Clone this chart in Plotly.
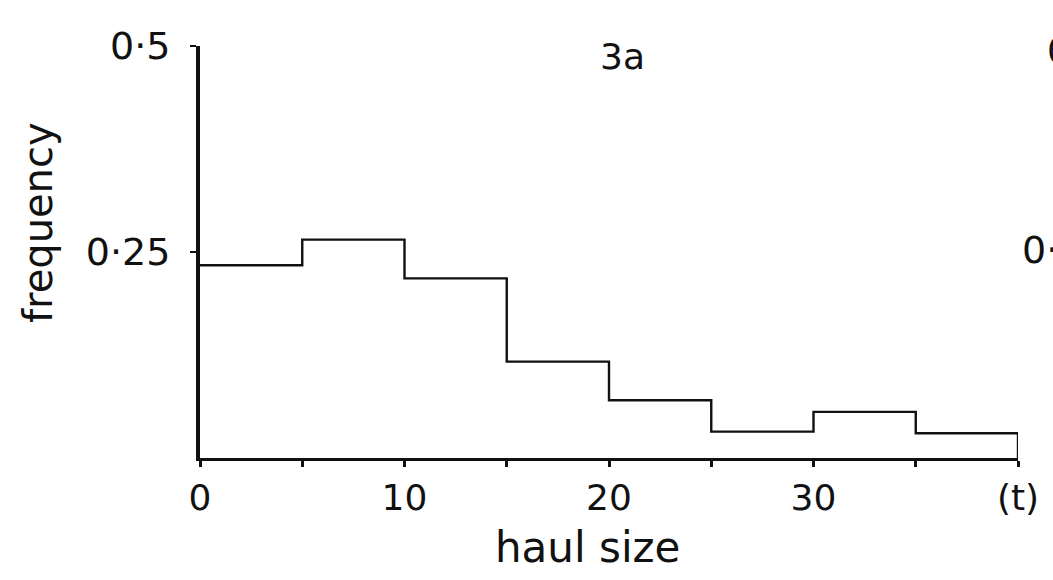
import plotly.graph_objects as go

# Haul size classes (t) and relative frequency per class
bin_edges = [0, 5, 10, 15, 20, 25, 30, 35, 40]
frequency = [0.234, 0.265, 0.218, 0.117, 0.070, 0.032, 0.056, 0.030]

x_tick_vals = [0, 5, 10, 15, 20, 25, 30, 35, 40]
x_tick_text = ["0", "", "10", "", "20", "", "30", "", "(t)"]
y_tick_vals = [0.25, 0.5]
y_tick_text = ["0·25", "0·5"]

FONT = "DejaVu Sans"
INK = "#111111"

W, H = 1053, 580
L, R, T, B = 200, 35, 46, 122
plot_w = W - L - R
plot_h = H - T - B


def px_to_paper(px, py):
    """Convert a pixel position on the page to paper coordinates."""
    return (px - L) / plot_w, (H - B - py) / plot_h


# Step outline of the histogram: each class level held until the next edge,
# then dropped back to the baseline at the last edge.
step_x = bin_edges + [bin_edges[-1]]
step_y = frequency + [frequency[-1], 0]

fig = go.Figure()
fig.add_trace(go.Scatter(
    x=step_x, y=step_y, mode="lines", line_shape="hv",
    line=dict(color=INK, width=2.4), hoverinfo="skip", showlegend=False,
))


def label(text, px, py, size=34, angle=0, xanchor="center"):
    x, y = px_to_paper(px, py)
    return dict(text=text, x=x, y=y, xref="paper", yref="paper",
                xanchor=xanchor, yanchor="middle", showarrow=False,
                textangle=angle, font=dict(size=size))


fig.update_layout(
    width=W, height=H,
    margin=dict(l=L, r=R, t=T, b=B),
    paper_bgcolor="white", plot_bgcolor="white",
    font=dict(family=FONT, color=INK, size=34),
    xaxis=dict(
        range=[0, 40], tickvals=x_tick_vals, ticktext=x_tick_text,
        showline=True, linecolor=INK, linewidth=3,
        ticks="outside", ticklen=6, tickwidth=3, tickcolor=INK,
        showgrid=False, zeroline=False, tickfont=dict(size=36),
    ),
    yaxis=dict(
        range=[0, 0.5], tickvals=y_tick_vals, ticktext=y_tick_text,
        showline=True, linecolor=INK, linewidth=4,
        ticks="outside", ticklen=6, tickwidth=2, tickcolor=INK,
        showgrid=False, zeroline=False, tickfont=dict(size=38),
        ticklabelstandoff=12,
    ),
    annotations=[
        label("3a", 622, 57, size=36),
        label("frequency", 38, 223, size=40, angle=-90),
        label("haul size", 587, 547, size=42),
        # Axis labels of the adjacent panel, cut off at the right edge
        label("0·5", 1045, 50, size=36, xanchor="left"),
        label("0·25", 1020, 250, size=38, xanchor="left"),
    ],
)

fig.write_html("out.html")
